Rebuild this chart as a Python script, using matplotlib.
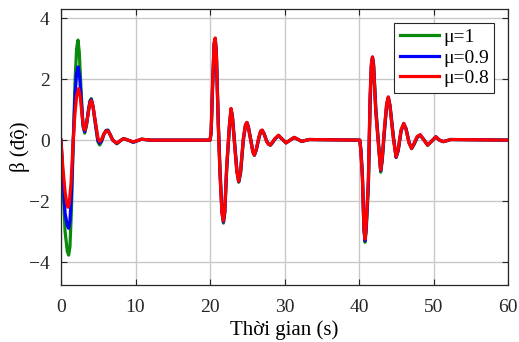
import matplotlib
matplotlib.use("Agg")
import matplotlib.pyplot as plt

# --- data (time in s, beta in degrees) ---
# first disturbance, 0-12 s: the three curves differ here
t1_green = [0, 0.25, 0.55, 0.85, 1.03, 1.2, 1.4, 1.65, 1.9, 2.1, 2.28, 2.45, 2.7, 2.95, 3.18, 3.4,
            3.7, 3.9, 4.07, 4.3, 4.65, 4.95, 5.19, 5.45, 5.75, 6.05, 6.3, 6.6, 6.95, 7.5,
            7.95, 8.4, 9.0, 9.7, 10.8, 12]
v1_green = [0, -1.3, -3.0, -3.65, -3.77, -3.5, -2.3, 0.0, 2.0, 3.0, 3.28, 2.9, 1.6, 0.5, 0.23, 0.45,
            1.0, 1.3, 1.36, 1.1, 0.45, -0.05, -0.16, -0.05, 0.18, 0.32, 0.33, 0.18, 0.0, -0.12,
            -0.02, 0.05, 0, -0.07, 0.03, 0]
t1_blue = [0, 0.25, 0.55, 0.85, 1.03, 1.2, 1.4, 1.65, 1.9, 2.1, 2.3, 2.5, 2.75, 2.97, 3.18, 3.4,
           3.7, 3.9, 4.07, 4.3, 4.65, 4.95, 5.19, 5.45, 5.75, 6.05, 6.3, 6.6, 6.95, 7.5,
           7.95, 8.4, 9.0, 9.7, 10.8, 12]
v1_blue = [0, -1.1, -2.4, -2.8, -2.89, -2.65, -1.8, 0.0, 1.5, 2.2, 2.4, 2.1, 1.2, 0.45, 0.28, 0.48,
           1.0, 1.27, 1.33, 1.1, 0.5, 0.0, -0.1, -0.02, 0.19, 0.31, 0.32, 0.18, 0.0, -0.11,
           -0.02, 0.05, 0, -0.07, 0.03, 0]
t1_red = [0, 0.25, 0.55, 0.8, 0.95, 1.1, 1.35, 1.6, 1.85, 2.1, 2.37, 2.6, 2.85, 3.05, 3.2, 3.4,
          3.7, 3.9, 4.07, 4.3, 4.65, 4.95, 5.19, 5.45, 5.75, 6.05, 6.3, 6.6, 6.95, 7.5,
          7.95, 8.4, 9.0, 9.7, 10.8, 12]
v1_red = [0, -0.9, -1.7, -2.1, -2.2, -2.1, -1.4, -0.2, 0.8, 1.45, 1.69, 1.4, 0.75, 0.4, 0.33, 0.5,
          0.95, 1.22, 1.3, 1.1, 0.55, 0.08, -0.05, 0.02, 0.2, 0.3, 0.3, 0.18, 0.0, -0.1,
          -0.02, 0.05, 0, -0.06, 0.03, 0]

# second disturbance, 20-40 s
t2 = [20.0, 20.15, 20.36, 20.55, 20.7, 20.85, 21.1, 21.34, 21.6, 21.8, 21.98, 22.24, 22.6, 22.82,
      23.0, 23.26, 23.6, 23.85, 24.1, 24.47, 24.75, 24.95, 25.15, 25.45, 25.75, 25.95, 26.2,
      26.55, 26.8, 27.0, 27.25, 27.6, 27.85, 28.1, 28.35, 28.7, 29.2, 29.7, 30.2, 30.75, 31.3,
      32.3, 33.3, 40.0]
v2_green = [0, 0.2, 1.8, 3.1, 3.3, 2.9, 0.7, -0.95, -2.3, -2.72, -2.4, -0.95, 0.4, 1.0,
            0.8, 0.05, -0.95, -1.38, -1.1, -0.02, 0.45, 0.57, 0.44, 0.05, -0.36, -0.5, -0.34,
            0.05, 0.28, 0.31, 0.22, -0.02, -0.12, -0.17, -0.1, 0.03, 0.14, 0.03, -0.09, 0, 0.08,
            -0.04, 0.02, 0]
v2_blue = [0, 0.25, 1.9, 3.15, 3.33, 2.85, 0.6, -1.05, -2.35, -2.68, -2.35, -0.9, 0.45, 1.02,
           0.78, 0.0, -1.0, -1.36, -1.05, 0.02, 0.48, 0.58, 0.42, 0.03, -0.38, -0.49, -0.32,
           0.07, 0.29, 0.32, 0.21, -0.03, -0.13, -0.16, -0.09, 0.04, 0.15, 0.03, -0.09, 0, 0.09,
           -0.04, 0.02, 0]
v2_red = [0, 0.3, 2.0, 3.2, 3.35, 2.8, 0.5, -1.15, -2.4, -2.65, -2.3, -0.82, 0.5, 1.04,
          0.75, -0.05, -1.05, -1.35, -1.0, 0.07, 0.5, 0.58, 0.4, 0.0, -0.4, -0.49, -0.3,
          0.1, 0.3, 0.33, 0.2, -0.05, -0.14, -0.16, -0.08, 0.05, 0.16, 0.03, -0.09, 0, 0.09,
          -0.04, 0.02, 0]

# third disturbance, 40-60 s
t3 = [40.1, 40.25, 40.45, 40.65, 40.8, 40.95, 41.25, 41.48, 41.65, 41.8, 41.95, 42.24, 42.6,
      42.9, 43.1, 43.4, 43.7, 43.93, 44.15, 44.6, 44.97, 45.25, 45.65, 46.0, 46.3, 46.7, 47.05,
      47.35, 47.8, 48.2, 48.7, 49.2, 49.75, 50.3, 50.8, 51.3, 52.3, 60]
v3_green = [0, -0.3, -1.1, -2.85, -3.35, -3.0, -1.55, 1.1, 2.4, 2.7, 2.5, 1.1, -0.05,
            -1.05, -0.7, 0.25, 1.1, 1.38, 1.15, 0.15, -0.57, -0.36, 0.3, 0.52, 0.39, -0.05, -0.28,
            -0.16, 0.08, 0.16, 0.02, -0.17, -0.03, 0.1, 0.0, -0.05, 0.02, 0]
v3_blue = [0, -0.35, -1.2, -2.9, -3.3, -2.9, -1.4, 1.3, 2.45, 2.72, 2.45, 1.0, -0.1,
           -1.0, -0.65, 0.3, 1.15, 1.4, 1.12, 0.1, -0.56, -0.33, 0.32, 0.54, 0.37, -0.07, -0.27,
           -0.14, 0.1, 0.17, 0.01, -0.16, -0.03, 0.11, 0.0, -0.05, 0.02, 0]
v3_red = [0, -0.4, -1.26, -2.9, -3.25, -2.8, -1.26, 1.48, 2.5, 2.73, 2.4, 0.93, -0.16,
          -0.98, -0.6, 0.38, 1.2, 1.42, 1.1, 0.05, -0.55, -0.3, 0.35, 0.55, 0.35, -0.1, -0.27,
          -0.12, 0.12, 0.18, 0.0, -0.16, -0.03, 0.11, 0.0, -0.05, 0.02, 0]

labels = ["μ=1", "μ=0.9", "μ=0.8"]
x_ticks = [0, 10, 20, 30, 40, 50, 60]
y_ticks = [-4, -2, 0, 2, 4]

plt.rcParams['font.family'] = ['Liberation Serif', 'DejaVu Serif']

fig = plt.figure(figsize=(5.19, 3.42), dpi=100)
ax = fig.add_axes([0.1175, 0.1667, 0.8615, 0.807])

series = [
    (t1_green + t2 + t3, v1_green + v2_green + v3_green, '#0a8a0a'),
    (t1_blue + t2 + t3, v1_blue + v2_blue + v3_blue, '#0000ff'),
    (t1_red + t2 + t3, v1_red + v2_red + v3_red, '#ff0000'),
]
for (t, v, c), lab in zip(series, labels):
    ax.plot(t, v, color=c, linewidth=2.3, label=lab, solid_joinstyle='round')

ax.set_xlim(0, 60)
ax.set_ylim(-4.75, 4.3)
ax.set_xticks(x_ticks)
ax.set_yticks(y_ticks)
ax.grid(True, color='#c8c8c8', linewidth=1.0)
ax.set_axisbelow(True)
ax.tick_params(direction='in', length=4, labelsize=14, colors='#262626',
               top=True, right=True)
ax.tick_params(axis='x', pad=10)
ax.tick_params(axis='y', pad=8)
for s in ax.spines.values():
    s.set_color('#262626')
    s.set_linewidth(0.9)

ax.set_xlabel('Thời gian (s)', fontsize=15, labelpad=3)
ax.set_ylabel('β (độ)', fontsize=15, labelpad=-1)

leg = ax.legend(loc='upper right', fontsize=14, handlelength=2.0, labelspacing=0.15,
                handletextpad=0.2, borderpad=0.3, borderaxespad=0.7, fancybox=False,
                framealpha=1)
leg.get_frame().set_edgecolor('#262626')
leg.get_frame().set_linewidth(0.8)

fig.savefig('out.png', dpi=100)
